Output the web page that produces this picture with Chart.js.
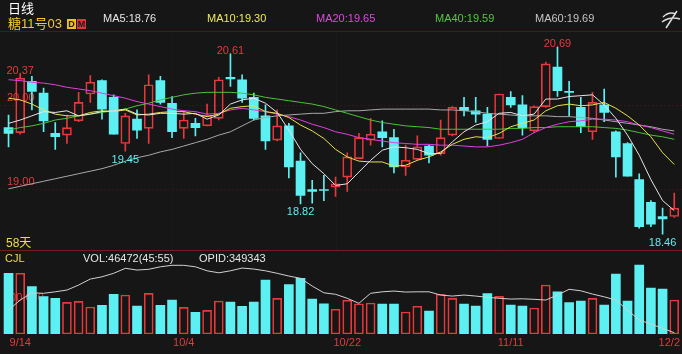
<!DOCTYPE html>
<html>
<head>
<meta charset="utf-8">
<script src="https://cdn.jsdelivr.net/npm/chart.js@4.4.0/dist/chart.umd.min.js"></script>
<style>
  html, body { margin: 0; padding: 0; background: #161616; }
  .wrap { position: relative; width: 682px; height: 354px; overflow: hidden; background: #161616;
          font-family: "Liberation Sans", Arial, "Noto Sans CJK SC", sans-serif; }
  .wrap canvas { position: absolute; left: 0; top: 0; }
  .t { position: absolute; white-space: nowrap; line-height: 1; }
  .box { position: absolute; width: 9px; height: 10px; font: bold 9px/10px "Liberation Sans", Arial, sans-serif;
         text-align: center; color: #1a1a1a; }
</style>
</head>
<body>
<div class="wrap">
  <canvas id="klineChart" width="682" height="354"></canvas>

  <!-- header -->
  <div class="t" style="left:8px;top:2px;font-size:13px;color:#ffffff;">日线</div>
  <div class="t" style="left:8px;top:17px;font-size:13px;color:#f5c92a;">糖11号03</div>
  <div class="box" style="left:67px;top:19px;background:#f0c21c;">D</div>
  <div class="box" style="left:77px;top:19px;background:#d9353a;">M</div>
  <div class="t" style="left:103px;top:13px;font-size:11px;color:#e6e6e6;">MA5:18.76</div>
  <div class="t" style="left:207px;top:13px;font-size:11px;color:#ecec4a;">MA10:19.30</div>
  <div class="t" style="left:316px;top:13px;font-size:11px;color:#e543e5;">MA20:19.65</div>
  <div class="t" style="left:435px;top:13px;font-size:11px;color:#52c83e;">MA40:19.59</div>
  <div class="t" style="left:535px;top:13px;font-size:11px;color:#c4c4c4;">MA60:19.69</div>
  <svg style="position:absolute;left:660px;top:8px" width="22" height="22">
    <path d="M3 9 Q9 3 16 6 M2 14 Q10 8 20 11 M6 20 L17 3" stroke="#dddddd" stroke-width="1.5" fill="none"/>
  </svg>

  <!-- sub panel labels -->
  <div class="t" style="left:6px;top:237px;font-size:12px;color:#f0dc46;">58天</div>
  <div class="t" style="left:5px;top:253px;font-size:11px;color:#f0dc46;">CJL</div>
  <div class="t" style="left:83px;top:253px;font-size:11px;color:#e6e6e6;">VOL:46472(45:55)</div>
  <div class="t" style="left:199px;top:253px;font-size:11px;color:#e6e6e6;">OPID:349343</div>
</div>

<script>
// trading days shown
var dates = ["9/13", "9/14", "9/15", "9/16", "9/17", "9/20", "9/21", "9/22", "9/23", "9/24",
  "9/27", "9/28", "9/29", "9/30", "10/1", "10/4", "10/5", "10/6", "10/7", "10/8",
  "10/11", "10/12", "10/13", "10/14", "10/15", "10/18", "10/19", "10/20", "10/21", "10/22",
  "10/25", "10/26", "10/27", "10/28", "10/29", "11/1", "11/2", "11/3", "11/4", "11/5",
  "11/8", "11/9", "11/10", "11/11", "11/12", "11/15", "11/16", "11/17", "11/18", "11/19",
  "11/22", "11/23", "11/24", "11/26", "11/29", "11/30", "12/1", "12/2"];

var opens = [19.73, 19.67, 20.28, 20.14, 19.66, 19.64, 19.81, 20.13, 20.29, 20.09,
  19.54, 19.83, 19.72, 20.29, 20.02, 19.72, 19.78, 19.75, 19.84, 20.33,
  20.30, 20.09, 19.87, 19.58, 19.75, 19.33, 18.99, 18.99, 19.02, 19.14,
  19.36, 19.58, 19.68, 19.61, 19.26, 19.35, 19.51, 19.42, 19.64, 19.97,
  19.93, 19.89, 19.60, 20.09, 20.00, 19.69, 19.98, 20.45, 20.16, 19.97,
  19.68, 20.00, 19.68, 19.54, 19.11, 18.84, 18.67, 18.67];
var highs = [19.88, 20.37, 20.34, 20.20, 19.79, 19.88, 20.15, 20.35, 20.30, 20.12,
  19.90, 19.94, 20.36, 20.34, 20.10, 19.93, 19.84, 20.01, 20.33, 20.61,
  20.36, 20.14, 20.00, 19.94, 19.78, 19.43, 19.10, 19.16, 19.14, 19.43,
  19.66, 19.84, 19.81, 19.71, 19.52, 19.63, 19.52, 19.82, 19.98, 20.09,
  20.09, 19.97, 20.13, 20.16, 20.11, 19.99, 20.51, 20.69, 20.28, 20.09,
  20.15, 20.19, 19.69, 19.55, 19.18, 18.86, 18.77, 18.95];
var lows = [19.50, 19.65, 19.94, 19.68, 19.47, 19.54, 19.80, 20.03, 19.83, 19.65,
  19.45, 19.60, 19.54, 20.01, 19.61, 19.60, 19.63, 19.75, 19.82, 20.22,
  20.03, 19.82, 19.47, 19.57, 19.13, 18.82, 18.83, 18.86, 18.91, 18.97,
  19.36, 19.52, 19.50, 19.19, 19.16, 19.34, 19.31, 19.40, 19.63, 19.87,
  19.79, 19.51, 19.60, 19.97, 19.64, 19.67, 19.97, 20.10, 19.87, 19.67,
  19.59, 19.80, 19.14, 19.15, 18.53, 18.55, 18.46, 18.66];
var closes = [19.66, 20.32, 20.16, 19.81, 19.62, 19.73, 20.03, 20.27, 19.95, 19.65,
  19.87, 19.70, 20.24, 20.03, 19.68, 19.82, 19.73, 19.88, 20.30, 20.31,
  20.08, 19.84, 19.57, 19.75, 19.26, 18.92, 18.97, 18.98, 19.06, 19.38,
  19.61, 19.65, 19.61, 19.26, 19.34, 19.50, 19.40, 19.61, 19.97, 19.93,
  19.89, 19.59, 20.13, 20.00, 19.73, 19.98, 20.49, 20.17, 20.15, 19.74,
  20.03, 19.91, 19.38, 19.15, 18.55, 18.58, 18.64, 18.77];

var ma5 = [19.78, 19.82, 19.87, 19.92, 19.91, 19.93, 19.87, 19.89, 19.92, 19.93,
  19.95, 19.89, 19.88, 19.90, 19.90, 19.89, 19.90, 19.83, 19.88, 20.01,
  20.06, 20.08, 20.02, 19.91, 19.70, 19.47, 19.30, 19.18, 19.04, 19.06,
  19.20, 19.34, 19.46, 19.50, 19.49, 19.47, 19.42, 19.42, 19.56, 19.68,
  19.76, 19.80, 19.90, 19.91, 19.87, 19.89, 20.07, 20.07, 20.10, 20.11,
  20.12, 20.00, 19.84, 19.64, 19.40, 19.11, 18.86, 18.74];
var ma10 = [20.08, 20.06, 20.01, 19.94, 19.89, 19.87, 19.87, 19.91, 19.93, 19.92,
  19.94, 19.88, 19.89, 19.91, 19.92, 19.92, 19.89, 19.86, 19.89, 19.96,
  19.98, 19.99, 19.92, 19.90, 19.85, 19.76, 19.69, 19.60, 19.47, 19.38,
  19.33, 19.32, 19.32, 19.27, 19.28, 19.34, 19.38, 19.44, 19.53, 19.59,
  19.62, 19.61, 19.66, 19.74, 19.78, 19.82, 19.93, 19.99, 20.01, 19.99,
  20.00, 20.03, 19.96, 19.87, 19.76, 19.62, 19.43, 19.29];
var ma20 = [20.30, 20.29, 20.27, 20.26, 20.24, 20.21, 20.19, 20.17, 20.14, 20.11,
  20.08, 20.04, 20.01, 19.98, 19.95, 19.93, 19.92, 19.89, 19.90, 19.94,
  19.96, 19.94, 19.92, 19.89, 19.86, 19.82, 19.77, 19.73, 19.68, 19.65,
  19.61, 19.59, 19.57, 19.55, 19.54, 19.53, 19.53, 19.52, 19.52, 19.51,
  19.50, 19.50, 19.52, 19.55, 19.59, 19.67, 19.73, 19.77, 19.80, 19.81,
  19.83, 19.83, 19.82, 19.80, 19.76, 19.73, 19.69, 19.65];
var ma40 = [19.70, 19.73, 19.75, 19.78, 19.82, 19.84, 19.87, 19.89, 19.91, 19.93,
  19.95, 19.99, 20.02, 20.06, 20.09, 20.12, 20.14, 20.15, 20.15, 20.15,
  20.14, 20.12, 20.09, 20.07, 20.05, 20.03, 20.01, 19.98, 19.94, 19.90,
  19.86, 19.82, 19.79, 19.77, 19.75, 19.74, 19.73, 19.71, 19.71, 19.71,
  19.71, 19.71, 19.71, 19.72, 19.72, 19.73, 19.73, 19.74, 19.74, 19.74,
  19.74, 19.73, 19.72, 19.70, 19.67, 19.64, 19.62, 19.59];
var ma60 = [19.00, 19.03, 19.06, 19.09, 19.12, 19.15, 19.18, 19.21, 19.24, 19.28,
  19.33, 19.37, 19.40, 19.44, 19.47, 19.51, 19.55, 19.59, 19.64, 19.68,
  19.75, 19.82, 19.85, 19.87, 19.88, 19.89, 19.90, 19.90, 19.92, 19.93,
  19.93, 19.94, 19.95, 19.95, 19.95, 19.95, 19.95, 19.94, 19.94, 19.93,
  19.92, 19.90, 19.89, 19.88, 19.87, 19.87, 19.87, 19.86, 19.86, 19.85,
  19.84, 19.82, 19.80, 19.78, 19.76, 19.74, 19.71, 19.69];

var volumes = [83000, 83000, 64700, 51000, 48800, 43300, 44700, 36900, 39200, 54300,
  53300, 38300, 55600, 39200, 46500, 36500, 29700, 32400, 45100, 43700,
  37900, 43700, 73800, 48800, 67400, 76100, 47800, 41400, 33800, 46100,
  41400, 42400, 41000, 41000, 30100, 37900, 31400, 54300, 48800, 41000,
  38300, 55100, 51500, 39600, 38300, 35500, 67000, 57800, 42800, 45100,
  48800, 39600, 82000, 45100, 94300, 62900, 61500, 46472];
var openInterest = [358400, 362400, 365300, 365100, 365700, 366400, 368400, 370800, 371700, 373100,
  375100, 374400, 374700, 375700, 376300, 376300, 375700, 374100, 373300, 374100,
  375200, 374800, 374100, 373100, 372000, 371100, 368000, 365300, 364700, 363100,
  361100, 365100, 365700, 366000, 365600, 365700, 365700, 364400, 364000, 364400,
  364000, 363500, 363100, 362800, 362900, 362700, 362400, 364400, 366700, 366100,
  364800, 363700, 362400, 358400, 354400, 352800, 351100, 349343];

var dateTickIdx = [1, 15, 29, 43, 57];
var priceTicks = [20.0, 19.0];
var gridIdx = [14, 28, 42];
var highMarkIdx = [1, 19, 47];
var lowMarkIdx = [10, 25, 56];

var NONE = "rgba(0,0,0,0)";
var RED = "#e8383c";
var CYAN = "#5cf0f2";

var isUp = closes.map(function (c, i) { return c >= opens[i]; });

// Background lines, axis labels, hi/lo marks and dates
var klineDecor = {
  id: "klineDecor",
  beforeDatasetsDraw: function (chart) {
    var ctx = chart.ctx, xs = chart.scales.x, ys = chart.scales.y;
    function line(x1, y1, x2, y2) { ctx.beginPath(); ctx.moveTo(x1, y1); ctx.lineTo(x2, y2); ctx.stroke(); }
    ctx.save();
    ctx.lineWidth = 1;
    ctx.strokeStyle = "#551417";
    line(0, 31.5, 682, 31.5);
    ctx.strokeStyle = "#7a1a1e";
    line(0, 250.5, 682, 250.5);

    ctx.strokeStyle = "#341618";
    ctx.setLineDash([2, 2]);
    priceTicks.forEach(function (v) {
      var py = Math.round(ys.getPixelForValue(v)) + 0.5;
      line(0, py, 682, py);
    });
    ctx.strokeStyle = "#2c1517";
    gridIdx.forEach(function (i) {
      var px = Math.round(xs.getPixelForValue(i)) + 0.5;
      line(px, 32, px, 250);
    });
    ctx.setLineDash([]);

    ctx.font = "11px 'Liberation Sans', Arial, sans-serif";
    ctx.fillStyle = RED;
    ctx.textBaseline = "bottom";
    priceTicks.forEach(function (v) {
      ctx.fillText(v.toFixed(2), 7, ys.getPixelForValue(v) - 1);
    });
    ctx.textBaseline = "middle";
    ctx.fillText("100,000", 4, 298);
    ctx.restore();
  },
  afterDatasetsDraw: function (chart) {
    var ctx = chart.ctx, xs = chart.scales.x, ys = chart.scales.y;
    ctx.save();
    ctx.font = "11px 'Liberation Sans', Arial, sans-serif";
    function placeX(i, txt) {
      var w = ctx.measureText(txt).width;
      var left = xs.getPixelForValue(i) - w / 2;
      return Math.max(2, Math.min(680 - w, left));
    }
    ctx.fillStyle = RED;
    ctx.textBaseline = "alphabetic";
    highMarkIdx.forEach(function (i) {
      var txt = highs[i].toFixed(2);
      ctx.fillText(txt, placeX(i, txt), ys.getPixelForValue(highs[i]));
    });
    ctx.fillStyle = CYAN;
    ctx.textBaseline = "top";
    lowMarkIdx.forEach(function (i) {
      var txt = lows[i].toFixed(2);
      ctx.fillText(txt, placeX(i, txt), ys.getPixelForValue(lows[i]) + 3);
    });
    ctx.fillStyle = RED;
    ctx.textBaseline = "middle";
    dateTickIdx.forEach(function (i) {
      ctx.fillText(dates[i], placeX(i, dates[i]), 343);
    });
    ctx.restore();
  }
};

function maLine(label, data, color) {
  return {
    type: "line",
    label: label,
    data: data,
    yAxisID: "y",
    borderColor: color,
    borderWidth: 1,
    pointRadius: 0,
    fill: false,
    tension: 0,
    order: 1
  };
}

function wick(label, data) {
  return {
    label: label,
    data: data,
    yAxisID: "y",
    grouped: false,
    barThickness: 1,
    borderSkipped: false,
    borderWidth: 0,
    backgroundColor: isUp.map(function (u) { return u ? RED : CYAN; }),
    order: 5
  };
}

var ctx = document.getElementById("klineChart").getContext("2d");
var klineChart = new Chart(ctx, {
  type: "bar",
  data: {
    labels: dates,
    datasets: [
      maLine("MA5", ma5, "#e6e6e6"),
      maLine("MA10", ma10, "#e4e448"),
      maLine("MA20", ma20, "#e040e0"),
      maLine("MA40", ma40, "#4cc23a"),
      maLine("MA60", ma60, "#a8a8a8"),
      {
        type: "line",
        label: "OPID",
        data: openInterest,
        yAxisID: "yOi",
        borderColor: "#d0d0d0",
        borderWidth: 1,
        pointRadius: 0,
        fill: false,
        tension: 0,
        order: 2
      },
      {
        label: "body",
        data: opens.map(function (o, i) { return [o, closes[i]]; }),
        yAxisID: "y",
        grouped: false,
        barThickness: 9,
        minBarLength: 1,
        borderSkipped: false,
        backgroundColor: isUp.map(function (u) { return u ? NONE : CYAN; }),
        borderColor: isUp.map(function (u) { return u ? RED : CYAN; }),
        borderWidth: isUp.map(function (u) { return u ? 1 : 0; }),
        order: 4
      },
      wick("upperWick", highs.map(function (h, i) { return [Math.max(opens[i], closes[i]), h]; })),
      wick("lowerWick", lows.map(function (l, i) { return [l, Math.min(opens[i], closes[i])]; })),
      {
        label: "VOL",
        data: volumes,
        yAxisID: "yVol",
        grouped: false,
        barThickness: 9,
        borderSkipped: false,
        backgroundColor: isUp.map(function (u) { return u ? NONE : CYAN; }),
        borderColor: isUp.map(function (u) { return u ? RED : CYAN; }),
        borderWidth: isUp.map(function (u) { return u ? 1 : 0; }),
        order: 4
      }
    ]
  },
  options: {
    responsive: false,
    animation: false,
    events: [],
    layout: { padding: { top: 32, bottom: 20, left: 2.7, right: 1.9 } },
    plugins: {
      legend: { display: false },
      tooltip: { enabled: false }
    },
    scales: {
      x: { type: "category", offset: true, display: false, grid: { display: false } },
      y: { type: "linear", display: false, min: 17.2695, max: 20.869 },
      yVol: { type: "linear", display: false, min: 0, max: 412800 },
      yOi: { type: "linear", display: false, min: 348823, max: 469623 }
    }
  },
  plugins: [klineDecor]
});
</script>
</body>
</html>
